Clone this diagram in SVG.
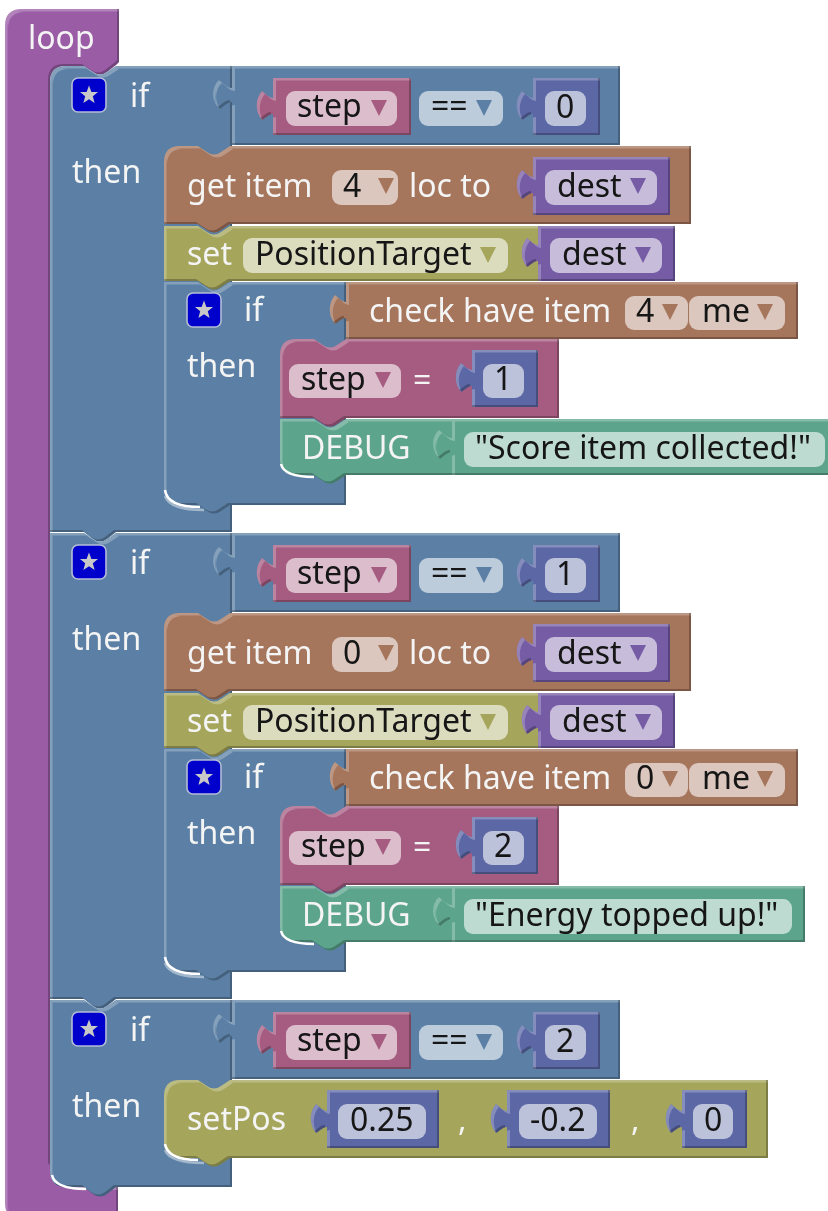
<svg xmlns="http://www.w3.org/2000/svg" xmlns:xlink="http://www.w3.org/1999/xlink" width="828" height="1211" viewBox="0 0 828 1211">
<style>
text{font-family:"Noto Sans","Open Sans",sans-serif;font-size:32px}
.w{fill:#f4f4f4}
.k{fill:#141414}
.pill{fill:#fff;fill-opacity:.6}
.b{filter:url(#bevel)}
.loop{fill:#995ba5}.logic{fill:#5b80a5}.brown{fill:#a5745b}.olive{fill:#a5a55b}.mauve{fill:#a55b80}.green{fill:#5ba58c}.num{fill:#5b67a5}.var{fill:#745ba5}
.arc{fill:none;stroke:#fff;stroke-width:2.5}
.arc2{fill:none;stroke:#a3b8cd;stroke-width:2.5}
</style>
<defs>
<filter id="bevel" x="-5%" y="-5%" width="110%" height="110%" color-interpolation-filters="sRGB">
<feOffset in="SourceAlpha" dx="2.5" dy="2.5" result="a"/>
<feComposite in="SourceAlpha" in2="a" operator="out" result="lt"/>
<feFlood flood-color="#fff" flood-opacity=".25"/>
<feComposite in2="lt" operator="in" result="L"/>
<feOffset in="SourceAlpha" dx="-2" dy="-2" result="b"/>
<feComposite in="SourceAlpha" in2="b" operator="out" result="dk"/>
<feFlood flood-color="#000" flood-opacity=".25"/>
<feComposite in2="dk" operator="in" result="D"/>
<feMerge><feMergeNode in="SourceGraphic"/><feMergeNode in="L"/><feMergeNode in="D"/></feMerge>
</filter>
<filter id="soft" filterUnits="userSpaceOnUse" x="0" y="0" width="828" height="1211"><feGaussianBlur stdDeviation=".6"/></filter>
<g id="btn">
<rect x="-17" y="-17" width="34" height="34" rx="6" fill="#0000cc" stroke="#b4bcd6" stroke-width="1.6"/>
<polygon points="0,-9.5 2.4,-3 9,-3 3.8,1.3 5.6,8 0,4.2 -5.6,8 -3.8,1.3 -9,-3 -2.4,-3" fill="#c8c8c8"/>
</g>
<path id="arr" d="M0 0H16L8 16Z"/>
</defs>
<g filter="url(#soft)">
<g id="loop">
<path class="b loop" d="M5 26Q5 9 22 9H119V62L116 65L107 72Q100 77 93 72L84 66H66Q50 66 50 82V1165L70 1187H118V1220H22Q5 1220 5 1203Z"/>
<text class="w" x="28" y="49">loop</text>
</g>

<g id="if1">
<path class="b logic" d="M50 82Q50 66 66 66H84L93 72Q100 77 107 72L116 66H232V532H116L107 539Q100 544 93 539L84 532H50Z"/>
<use xlink:href="#btn" href="#btn" x="89" y="95"/>
<text class="w" x="130" y="107">if</text>
<text class="w" x="72" y="183">then</text>
<g id="cmp1">
<path class="b logic" d="M232 66H620V145H232V102c-4 0-7 3-12 7c-9-8-9-22-1-29c4 3 8 8 13 8Z"/>
<path class="b mauve" d="M273 78H411V135H273V114c-4 0-6 3-11 6c-7-8-7-21 0-29c4 3 7 7 11 7Z"/>
<rect class="pill" x="286" y="91" width="111" height="35" rx="9"/>
<text class="k" x="297" y="117">step</text>
<use xlink:href="#arr" href="#arr" class="mauve" x="371" y="100"/>
<rect class="pill" x="419" y="91" width="84" height="35" rx="9"/>
<text class="k" x="431" y="117">==</text>
<use xlink:href="#arr" href="#arr" class="logic" x="476" y="100"/>
<path class="b num" d="M533 78H600V135H533V114c-4 0-6 3-11 6c-7-8-7-21 0-29c4 3 7 7 11 7Z"/>
<rect class="pill" x="545" y="91" width="41" height="35" rx="9"/>
<text class="k" x="556" y="118">0</text>
</g>
<g id="get1">
<path class="b brown" d="M164 162Q164 146 180 146H198L207 152Q214 157 221 152L230 146H691V224H230L221 230Q214 235 207 230L198 224H164Z"/>
<text class="w" x="187" y="197">get item</text>
<rect class="pill" x="332" y="170" width="66" height="35" rx="9"/>
<text class="k" x="343" y="197">4</text>
<use xlink:href="#arr" href="#arr" class="brown" x="378" y="178"/>
<text class="w" x="409" y="197">loc to</text>
<path class="b var" d="M533 157H670V215H533V193c-4 0-6 3-11 6c-7-8-7-21 0-29c4 3 7 7 11 7Z"/>
<rect class="pill" x="545" y="170" width="112" height="35" rx="9"/>
<text class="k" x="557" y="197">dest</text>
<use xlink:href="#arr" href="#arr" class="var" x="630" y="178"/>
</g>
<g id="set1">
<path class="b olive" d="M164 226H198L207 232Q214 237 221 232L230 226H540V281H230L221 287Q214 292 207 287L198 281H164Z"/>
<text class="w" x="187" y="265">set</text>
<rect class="pill" x="243" y="238" width="265" height="35" rx="9"/>
<text class="k" x="255" y="265">PositionTarget</text>
<use xlink:href="#arr" href="#arr" class="olive" x="480" y="247"/>
<path class="b var" d="M538 226H675V281H538V261c-4 0-6 3-11 6c-7-8-7-21 0-29c4 3 7 7 11 7Z"/>
<rect class="pill" x="550" y="238" width="112" height="35" rx="9"/>
<text class="k" x="562" y="265">dest</text>
<use xlink:href="#arr" href="#arr" class="var" x="635" y="247"/>
</g>
<g id="innerif1">
<path class="b logic" d="M164 282H198L207 288Q214 293 221 288L230 282H346V505H230L221 511Q214 516 207 511L198 505H180Q164 505 164 489Z"/>
<path class="arc2" d="M165 496Q170 510 204 510"/>
<path class="arc" d="M165 490Q167 507 200 507"/>
<use xlink:href="#btn" href="#btn" x="204" y="310"/>
<text class="w" x="244" y="321">if</text>
<text class="w" x="187" y="377">then</text>
<g id="check1">
<path class="b brown" d="M346 282H798V339H346V318c-4 0-6 3-11 6c-7-8-7-21 0-29c4 3 7 7 11 7Z"/>
<text class="w" x="369" y="322">check have item</text>
<rect class="pill" x="625" y="296" width="63" height="34" rx="9"/>
<text class="k" x="636" y="322">4</text>
<use xlink:href="#arr" href="#arr" class="brown" x="662" y="304"/>
<rect class="pill" x="689" y="296" width="96" height="34" rx="9"/>
<text class="k" x="702" y="322">me</text>
<use xlink:href="#arr" href="#arr" class="brown" x="757" y="304"/>
</g>
<g id="assign1">
<path class="b mauve" d="M280 355Q280 339 296 339H314L323 345Q330 350 337 345L346 339H559V418H346L337 424Q330 429 323 424L314 418H280Z"/>
<rect class="pill" x="289" y="364" width="112" height="34" rx="9"/>
<text class="k" x="301" y="390">step</text>
<use xlink:href="#arr" href="#arr" class="mauve" x="375" y="372"/>
<text class="w" x="413" y="391">=</text>
<path class="b num" d="M472 350H538V407H472V386c-4 0-6 3-11 6c-7-8-7-21 0-29c4 3 7 7 11 7Z"/>
<rect class="pill" x="483" y="364" width="41" height="34" rx="9"/>
<text class="k" x="494" y="390">1</text>
</g>
<g id="debug1">
<path class="b green" d="M280 419H314L323 425Q330 430 337 425L346 419H840V475H346L337 481Q330 486 323 481L314 475H296Q280 475 280 459Z"/>
<path class="arc" d="M281 464Q284 477 314 477"/>
<text class="w" x="302" y="459">DEBUG</text>
<path class="b green" d="M452 419H840V475H452V452c-4 0-7 3-12 7c-9-8-9-22-1-29c4 3 8 8 13 8Z"/>
<rect class="pill" x="464" y="432" width="361" height="35" rx="9"/>
<text class="k" x="475" y="459">"Score item collected!"</text>
</g>
</g>
</g>

<g id="if2" transform="translate(0,467)">
<path class="b logic" d="M50 66H84L93 72Q100 77 107 72L116 66H232V532H116L107 539Q100 544 93 539L84 532H50Z"/>
<use xlink:href="#btn" href="#btn" x="89" y="95"/>
<text class="w" x="130" y="107">if</text>
<text class="w" x="72" y="183">then</text>
<g id="cmp2">
<path class="b logic" d="M232 66H620V145H232V102c-4 0-7 3-12 7c-9-8-9-22-1-29c4 3 8 8 13 8Z"/>
<path class="b mauve" d="M273 78H411V135H273V114c-4 0-6 3-11 6c-7-8-7-21 0-29c4 3 7 7 11 7Z"/>
<rect class="pill" x="286" y="91" width="111" height="35" rx="9"/>
<text class="k" x="297" y="117">step</text>
<use xlink:href="#arr" href="#arr" class="mauve" x="371" y="100"/>
<rect class="pill" x="419" y="91" width="84" height="35" rx="9"/>
<text class="k" x="431" y="117">==</text>
<use xlink:href="#arr" href="#arr" class="logic" x="476" y="100"/>
<path class="b num" d="M533 78H600V135H533V114c-4 0-6 3-11 6c-7-8-7-21 0-29c4 3 7 7 11 7Z"/>
<rect class="pill" x="545" y="91" width="41" height="35" rx="9"/>
<text class="k" x="556" y="118">1</text>
</g>
<g id="get2">
<path class="b brown" d="M164 162Q164 146 180 146H198L207 152Q214 157 221 152L230 146H691V224H230L221 230Q214 235 207 230L198 224H164Z"/>
<text class="w" x="187" y="197">get item</text>
<rect class="pill" x="332" y="170" width="66" height="35" rx="9"/>
<text class="k" x="343" y="197">0</text>
<use xlink:href="#arr" href="#arr" class="brown" x="378" y="178"/>
<text class="w" x="409" y="197">loc to</text>
<path class="b var" d="M533 157H670V215H533V193c-4 0-6 3-11 6c-7-8-7-21 0-29c4 3 7 7 11 7Z"/>
<rect class="pill" x="545" y="170" width="112" height="35" rx="9"/>
<text class="k" x="557" y="197">dest</text>
<use xlink:href="#arr" href="#arr" class="var" x="630" y="178"/>
</g>
<g id="set2">
<path class="b olive" d="M164 226H198L207 232Q214 237 221 232L230 226H540V281H230L221 287Q214 292 207 287L198 281H164Z"/>
<text class="w" x="187" y="265">set</text>
<rect class="pill" x="243" y="238" width="265" height="35" rx="9"/>
<text class="k" x="255" y="265">PositionTarget</text>
<use xlink:href="#arr" href="#arr" class="olive" x="480" y="247"/>
<path class="b var" d="M538 226H675V281H538V261c-4 0-6 3-11 6c-7-8-7-21 0-29c4 3 7 7 11 7Z"/>
<rect class="pill" x="550" y="238" width="112" height="35" rx="9"/>
<text class="k" x="562" y="265">dest</text>
<use xlink:href="#arr" href="#arr" class="var" x="635" y="247"/>
</g>
<g id="innerif2">
<path class="b logic" d="M164 282H198L207 288Q214 293 221 288L230 282H346V505H230L221 511Q214 516 207 511L198 505H180Q164 505 164 489Z"/>
<path class="arc2" d="M165 496Q170 510 204 510"/>
<path class="arc" d="M165 490Q167 507 200 507"/>
<use xlink:href="#btn" href="#btn" x="204" y="310"/>
<text class="w" x="244" y="321">if</text>
<text class="w" x="187" y="377">then</text>
<g id="check2">
<path class="b brown" d="M346 282H798V339H346V318c-4 0-6 3-11 6c-7-8-7-21 0-29c4 3 7 7 11 7Z"/>
<text class="w" x="369" y="322">check have item</text>
<rect class="pill" x="625" y="296" width="63" height="34" rx="9"/>
<text class="k" x="636" y="322">0</text>
<use xlink:href="#arr" href="#arr" class="brown" x="662" y="304"/>
<rect class="pill" x="689" y="296" width="96" height="34" rx="9"/>
<text class="k" x="702" y="322">me</text>
<use xlink:href="#arr" href="#arr" class="brown" x="757" y="304"/>
</g>
<g id="assign2">
<path class="b mauve" d="M280 355Q280 339 296 339H314L323 345Q330 350 337 345L346 339H559V418H346L337 424Q330 429 323 424L314 418H280Z"/>
<rect class="pill" x="289" y="364" width="112" height="34" rx="9"/>
<text class="k" x="301" y="390">step</text>
<use xlink:href="#arr" href="#arr" class="mauve" x="375" y="372"/>
<text class="w" x="413" y="391">=</text>
<path class="b num" d="M472 350H538V407H472V386c-4 0-6 3-11 6c-7-8-7-21 0-29c4 3 7 7 11 7Z"/>
<rect class="pill" x="483" y="364" width="41" height="34" rx="9"/>
<text class="k" x="494" y="390">2</text>
</g>
<g id="debug2">
<path class="b green" d="M280 419H314L323 425Q330 430 337 425L346 419H805V475H346L337 481Q330 486 323 481L314 475H296Q280 475 280 459Z"/>
<path class="arc" d="M281 464Q284 477 314 477"/>
<text class="w" x="302" y="459">DEBUG</text>
<path class="b green" d="M452 419H805V475H452V452c-4 0-7 3-12 7c-9-8-9-22-1-29c4 3 8 8 13 8Z"/>
<rect class="pill" x="464" y="432" width="328" height="35" rx="9"/>
<text class="k" x="475" y="459">"Energy topped up!"</text>
</g>
</g>
</g>

<g id="if3" transform="translate(0,934)">
<path class="b logic" d="M50 66H84L93 72Q100 77 107 72L116 66H232V253H116L107 260Q100 265 93 260L84 253H66Q50 253 50 237Z"/>
<path class="arc" d="M52 241Q55 255 86 255"/>
<use xlink:href="#btn" href="#btn" x="89" y="95"/>
<text class="w" x="130" y="107">if</text>
<text class="w" x="72" y="183">then</text>
<g id="cmp3">
<path class="b logic" d="M232 66H620V145H232V102c-4 0-7 3-12 7c-9-8-9-22-1-29c4 3 8 8 13 8Z"/>
<path class="b mauve" d="M273 78H411V135H273V114c-4 0-6 3-11 6c-7-8-7-21 0-29c4 3 7 7 11 7Z"/>
<rect class="pill" x="286" y="91" width="111" height="35" rx="9"/>
<text class="k" x="297" y="117">step</text>
<use xlink:href="#arr" href="#arr" class="mauve" x="371" y="100"/>
<rect class="pill" x="419" y="91" width="84" height="35" rx="9"/>
<text class="k" x="431" y="117">==</text>
<use xlink:href="#arr" href="#arr" class="logic" x="476" y="100"/>
<path class="b num" d="M533 78H600V135H533V114c-4 0-6 3-11 6c-7-8-7-21 0-29c4 3 7 7 11 7Z"/>
<rect class="pill" x="545" y="91" width="41" height="35" rx="9"/>
<text class="k" x="556" y="118">2</text>
</g>
<g id="setpos">
<path class="b olive" d="M164 162Q164 146 180 146H198L207 152Q214 157 221 152L230 146H768V224H230L221 230Q214 235 207 230L198 224H180Q164 224 164 208Z"/>
<path class="arc2" d="M165 216Q170 229 204 229"/>
<path class="arc" d="M165 210Q168 226 198 226"/>
<text class="w" x="187" y="196">setPos</text>
<path class="b num" d="M327 156H439V214H327V193c-4 0-6 3-11 6c-7-8-7-21 0-29c4 3 7 7 11 7Z"/>
<rect class="pill" x="338" y="170" width="88" height="35" rx="9"/>
<text class="k" x="350" y="197">0.25</text>
<text class="w" x="458" y="197">,</text>
<path class="b num" d="M507 156H610V214H507V193c-4 0-6 3-11 6c-7-8-7-21 0-29c4 3 7 7 11 7Z"/>
<rect class="pill" x="519" y="170" width="78" height="35" rx="9"/>
<text class="k" x="530" y="197">-0.2</text>
<text class="w" x="631" y="197">,</text>
<path class="b num" d="M682 156H747V214H682V193c-4 0-6 3-11 6c-7-8-7-21 0-29c4 3 7 7 11 7Z"/>
<rect class="pill" x="693" y="170" width="40" height="35" rx="9"/>
<text class="k" x="704" y="197">0</text>
</g>
</g>
</g>
</svg>
